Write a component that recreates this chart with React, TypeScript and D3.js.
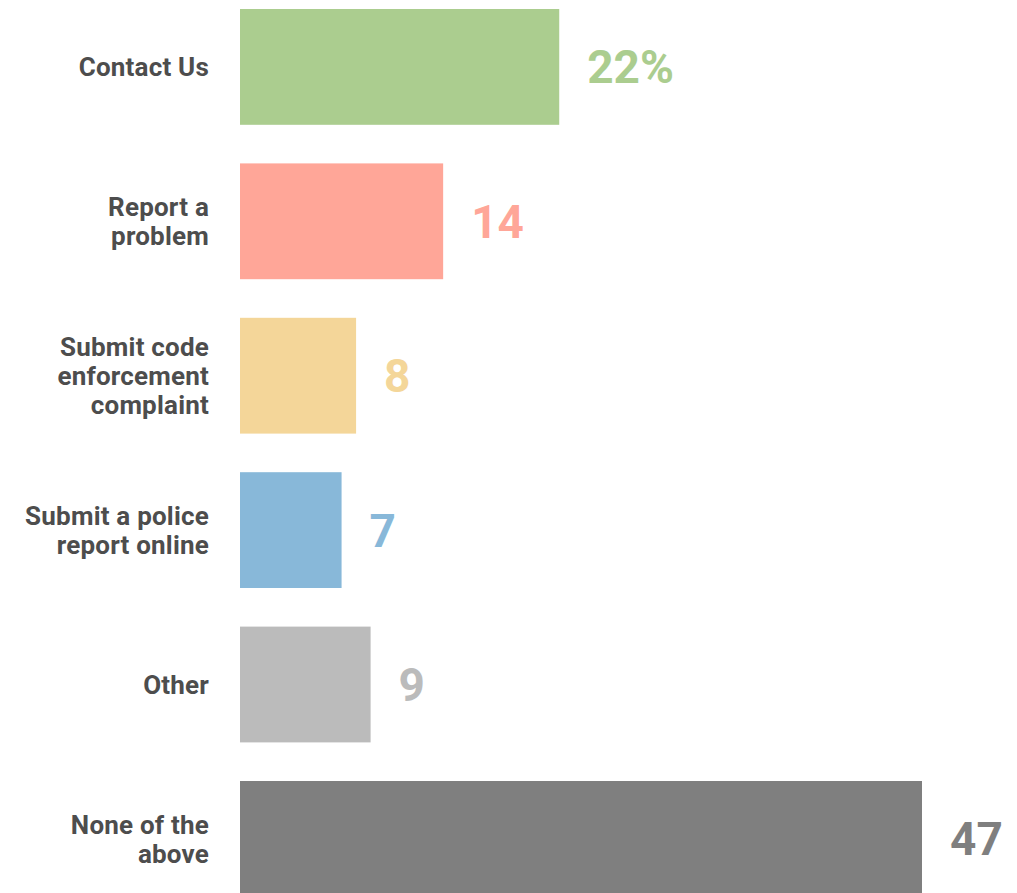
import { useRef, useEffect } from 'react';
import * as d3 from 'd3';

const categories = [
  'Contact Us',
  'Report a|problem',
  'Submit code|enforcement|complaint',
  'Submit a police|report online',
  'Other',
  'None of the|above',
];
const values = [22, 14, 8, 7, 9, 47];
const valueLabels = ['22%', '14', '8', '7', '9', '47'];
const colors = ['#abcd8f', '#ffa698', '#f4d699', '#88b8d9', '#bbbbbb', '#7f7f7f'];

const width = 1017;
const height = 893;

export default function App() {
  const svgRef = useRef<SVGSVGElement>(null);

  useEffect(() => {
    const svg = d3.select(svgRef.current);
    svg.selectAll('*').remove();

    const x = d3.scaleLinear().domain([0, 47]).range([240, 922]);
    const y = d3.scaleBand<string>()
      .domain(categories)
      .range([-10.3, 916.1])
      .paddingInner(0.25)
      .paddingOuter(0.125);

    const font = 'Roboto, "DejaVu Sans", sans-serif';

    // bars
    svg.selectAll('rect.bar').data(categories).enter().append('rect')
      .attr('class', 'bar')
      .attr('x', x(0))
      .attr('y', d => y(d)!)
      .attr('width', (d, i) => x(values[i]) - x(0))
      .attr('height', y.bandwidth())
      .attr('fill', (d, i) => colors[i]);

    // value labels
    svg.selectAll('text.val').data(categories).enter().append('text')
      .attr('class', 'val')
      .attr('x', (d, i) => x(values[i]) + 28)
      .attr('y', d => y(d)! + y.bandwidth() / 2)
      .attr('dy', '0.36em')
      .attr('fill', (d, i) => colors[i])
      .attr('font-family', font)
      .attr('font-weight', 'bold')
      .attr('font-size', 46)
      .text((d, i) => valueLabels[i]);

    // category labels
    const lineH = 29;
    categories.forEach(c => {
      const lines = c.split('|');
      const cy = y(c)! + y.bandwidth() / 2;
      const t = svg.append('text')
        .attr('x', 209)
        .attr('text-anchor', 'end')
        .attr('fill', '#4d4d4d')
        .attr('font-family', font)
        .attr('font-weight', 'bold')
        .attr('font-size', 26)
        .attr('letter-spacing', 0.2);
      lines.forEach((l, j) => {
        t.append('tspan')
          .attr('x', 209)
          .attr('y', cy + (j - (lines.length - 1) / 2) * lineH)
          .attr('dy', '0.36em')
          .text(l);
      });
    });
  }, []);

  return (
    <svg ref={svgRef} width={width} height={height}
      style={{ position: 'absolute', left: 0, top: 0, display: 'block', background: '#fff' }} />
  );
}
